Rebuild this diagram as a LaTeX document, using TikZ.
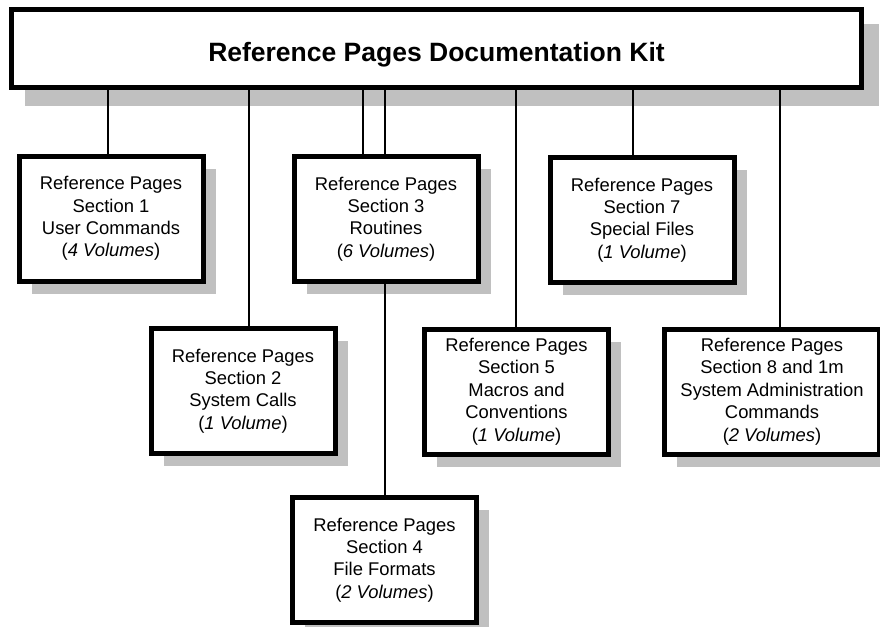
\documentclass[tikz,border=0pt]{standalone}
\usepackage{fontspec}
\setmainfont{Liberation Sans}
\usetikzlibrary{calc,backgrounds}
\definecolor{shade}{RGB}{192,192,192}
\begin{document}
\begin{tikzpicture}[x=1pt,y=-1pt,
  kit/.style={draw=black, fill=white, line width=5pt, outer sep=2.5pt,
    inner sep=0pt, align=center, font=\fontsize{18.4}{22.4}\selectfont,
    minimum width=184pt, minimum height=125pt},
  link/.style={draw=black, line width=2pt},
  shadowfill/.style={fill=shade, draw=none}]
\useasboundingbox (0,0) rectangle (880,626);

% title box
\node[kit, minimum width=850pt, minimum height=78pt,
  font=\bfseries\fontsize{26.5}{32}\selectfont,
  text height=31pt, text depth=6pt] (top) at (436.5,48.5)
  {Reference Pages Documentation Kit};

% upper row
\node[kit] (b1) at (111,218.5)
  {Reference Pages\\Section 1\\User Commands\\(\textit{4 Volumes})};
\node[kit] (b3) at (386,219)
  {Reference Pages\\Section 3\\Routines\\(\textit{6 Volumes})};
\node[kit] (b7) at (642,220)
  {Reference Pages\\Section 7\\Special Files\\(\textit{1 Volume})};

% lower row
\node[kit] (b2) at (243,391)
  {Reference Pages\\Section 2\\System Calls\\(\textit{1 Volume})};
\node[kit] (b5) at (516.5,391.5)
  {Reference Pages\\Section 5\\Macros and\\Conventions\\(\textit{1 Volume})};
\node[kit, minimum width=215pt] (b8) at (772,391.5)
  {Reference Pages\\Section 8 and 1m\\System Administration\\Commands\\(\textit{2 Volumes})};

% bottom
\node[kit] (b4) at (384.5,560)
  {Reference Pages\\Section 4\\File Formats\\(\textit{2 Volumes})};

% branch positions along the title box
\coordinate (c1) at (108,0);
\coordinate (c2) at (249,0);
\coordinate (c3) at (363,0);
\coordinate (c4) at (385,0);
\coordinate (c5) at (516,0);
\coordinate (c7) at (633,0);
\coordinate (c8) at (780,0);

\begin{pgfonlayer}{background}
  % drop shadows
  \fill[shadowfill] ($(top.north west)+(16,17)$) rectangle ($(top.south east)+(15,16)$);
  \foreach \b in {b1,b2,b3,b4,b5,b7,b8}
    \fill[shadowfill] ($(\b.north west)+(15,15)$) rectangle ($(\b.south east)+(10,10)$);
  % connectors
  \draw[link] (top.south -| c1) -- (b1.north -| c1);
  \draw[link] (top.south -| c2) -- (b2.north -| c2);
  \draw[link] (top.south -| c3) -- (b3.north -| c3);
  \draw[link] (top.south -| c4) -- (b4.north -| c4);
  \draw[link] (top.south -| c5) -- (b5.north -| c5);
  \draw[link] (top.south -| c7) -- (b7.north -| c7);
  \draw[link] (top.south -| c8) -- (b8.north -| c8);
\end{pgfonlayer}
\end{tikzpicture}
\end{document}
